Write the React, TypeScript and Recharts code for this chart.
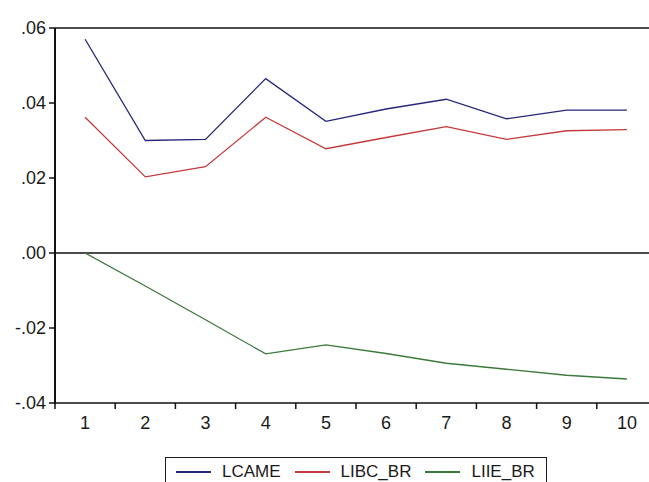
import { LineChart, Line, XAxis, YAxis, ReferenceLine } from 'recharts';

const periods = [1, 2, 3, 4, 5, 6, 7, 8, 9, 10];
const lcame = [0.057, 0.03, 0.0303, 0.0465, 0.0351, 0.0384, 0.041, 0.0358, 0.0381, 0.0381];
const libcBr = [0.0362, 0.0203, 0.023, 0.0362, 0.0278, 0.0308, 0.0337, 0.0303, 0.0326, 0.0329];
const liieBr = [0.0, -0.0088, -0.0178, -0.0269, -0.0245, -0.0268, -0.0294, -0.031, -0.0326, -0.0336];

const yTicks = [-0.04, -0.02, 0, 0.02, 0.04, 0.06];
const boundaryTicks = [0.5, 1.5, 2.5, 3.5, 4.5, 5.5, 6.5, 7.5, 8.5, 9.5];

const series = [
  { key: 'LCAME', values: lcame, color: '#26267a' },
  { key: 'LIBC_BR', values: libcBr, color: '#c43a3a' },
  { key: 'LIIE_BR', values: liieBr, color: '#3b7a3b' },
];

const FONT = "'Liberation Sans', Arial, sans-serif";
const AXIS = 'rgb(17,17,17)';

const data = periods.map((p, i) => {
  const row: Record<string, number> = { period: p };
  series.forEach((s) => {
    row[s.key] = s.values[i];
  });
  return row;
});

const fmtY = (v: number) => v.toFixed(2).replace('0.', '.');

export default function App() {
  return (
    <div
      style={{
        position: 'absolute',
        left: 0,
        top: 0,
        width: 649,
        height: 482,
        overflow: 'hidden',
        background: '#fff',
        fontFamily: FONT,
      }}
    >
      <LineChart
        width={666}
        height={482}
        data={data}
        margin={{ top: 28, right: 9, bottom: 0, left: 0 }}
      >
        {/* tick marks sit between the period labels */}
        <XAxis
          xAxisId="a"
          dataKey="period"
          type="number"
          domain={[0.5, 10.5]}
          ticks={boundaryTicks}
          interval={0}
          tickFormatter={() => ''}
          tickSize={6}
          height={8}
          axisLine={{ stroke: AXIS, strokeWidth: 1.5 }}
          tickLine={{ stroke: AXIS, strokeWidth: 1.5 }}
        />
        <XAxis
          xAxisId="b"
          dataKey="period"
          type="number"
          domain={[0.5, 10.5]}
          ticks={periods}
          interval={0}
          axisLine={false}
          tickLine={false}
          tickSize={0}
          tickMargin={5}
          height={71}
          tick={{ fill: '#1a1a1a', fontSize: 18, fontFamily: FONT }}
        />
        <YAxis
          type="number"
          domain={[-0.04, 0.06]}
          ticks={yTicks}
          interval={0}
          width={55}
          tickFormatter={fmtY}
          tickSize={6}
          tickMargin={3}
          axisLine={{ stroke: AXIS, strokeWidth: 1.5 }}
          tickLine={{ stroke: AXIS, strokeWidth: 1.5 }}
          tick={{ fill: '#1a1a1a', fontSize: 18, fontFamily: FONT }}
        />
        <ReferenceLine xAxisId="a" y={0.06} stroke={AXIS} strokeWidth={1.5} />
        <ReferenceLine xAxisId="a" y={0} stroke={AXIS} strokeWidth={1.5} />
        {series.map((s) => (
          <Line
            key={s.key}
            xAxisId="a"
            dataKey={s.key}
            stroke={s.color}
            strokeWidth={1.3}
            dot={false}
            type="linear"
            isAnimationActive={false}
          />
        ))}
      </LineChart>

      {/* left frame edge */}
      <div
        style={{
          position: 'absolute',
          left: 54,
          top: 28,
          width: 2,
          height: 376,
          background: '#111',
        }}
      />

      {/* legend box */}
      <div
        style={{
          position: 'absolute',
          left: 165,
          top: 457,
          width: 382,
          height: 32,
          border: '1.5px solid #1a1a1a',
          boxSizing: 'border-box',
          display: 'flex',
          alignItems: 'flex-start',
          paddingLeft: 10,
          paddingTop: 4,
          fontSize: 17,
          color: '#1a1a1a',
          lineHeight: '20px',
        }}
      >
        {series.map((s) => (
          <div key={s.key} style={{ display: 'flex', alignItems: 'center', marginRight: 14 }}>
            <div style={{ width: 35, height: 1.5, background: s.color, marginRight: 11 }} />
            <span>{s.key}</span>
          </div>
        ))}
      </div>
    </div>
  );
}
